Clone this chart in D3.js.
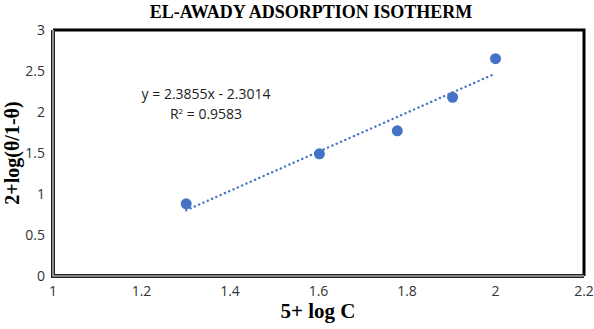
<!DOCTYPE html>
<html>
<head>
<meta charset="utf-8">
<script src="https://cdn.jsdelivr.net/npm/d3@7"></script>
<style>
  body { margin: 0; background: #fff; }
  svg { display: block; }
</style>
</head>
<body>
<div id="chart"></div>
<script>
// data
const xValues = [1.301, 1.602, 1.778, 1.903, 2.0];
const yValues = [0.88, 1.49, 1.77, 2.18, 2.65];
const slope = 2.3855;
const intercept = -2.3014;
const xTicks = [1, 1.2, 1.4, 1.6, 1.8, 2, 2.2];
const yTicks = [0, 0.5, 1, 1.5, 2, 2.5, 3];

const width = 594, height = 329;
const plotLeft = 53, plotRight = 584, plotTop = 30, plotBottom = 276;

const svg = d3.select("#chart").append("svg")
    .attr("width", width)
    .attr("height", height);

const x = d3.scaleLinear().domain([1, 2.2]).range([plotLeft, plotRight]);
const y = d3.scaleLinear().domain([0, 3]).range([plotBottom, plotTop]);

const serif = "Liberation Serif, Times New Roman, serif";
const tickFont = "Open Sans, Liberation Sans, sans-serif";

// title
svg.append("text")
    .attr("x", 311).attr("y", 18)
    .attr("text-anchor", "middle")
    .attr("font-family", serif)
    .attr("font-weight", "bold")
    .attr("font-size", 18)
    .text("EL-AWADY ADSORPTION ISOTHERM");

// frame: thick black on top/right
svg.append("path")
    .attr("d", `M${plotLeft},${plotTop} H${plotRight} V${plotBottom}`)
    .attr("fill", "none")
    .attr("stroke", "#000")
    .attr("stroke-width", 3);

// left/bottom axis: double line look
svg.append("path")
    .attr("d", `M${plotLeft},${plotTop} V${plotBottom} H${plotRight}`)
    .attr("fill", "none")
    .attr("stroke", "#222")
    .attr("stroke-width", 4);
svg.append("path")
    .attr("d", `M${plotLeft},${plotTop} V${plotBottom} H${plotRight}`)
    .attr("fill", "none")
    .attr("stroke", "#a6a6a6")
    .attr("stroke-width", 1.6);

// tick labels
svg.append("g").selectAll("text")
    .data(yTicks)
    .join("text")
    .attr("x", plotLeft - 8)
    .attr("y", d => y(d) + 5)
    .attr("text-anchor", "end")
    .attr("font-family", tickFont)
    .attr("font-size", 14)
    .attr("fill", "#333")
    .text(d => d);

svg.append("g").selectAll("text")
    .data(xTicks)
    .join("text")
    .attr("x", d => x(d))
    .attr("y", plotBottom + 20)
    .attr("text-anchor", "middle")
    .attr("font-family", tickFont)
    .attr("font-size", 14)
    .attr("fill", "#333")
    .text(d => d);

// axis titles
svg.append("text")
    .attr("x", 318).attr("y", 318)
    .attr("text-anchor", "middle")
    .attr("font-family", serif)
    .attr("font-weight", "bold")
    .attr("font-size", 21)
    .text("5+ log C");

svg.append("text")
    .attr("transform", "translate(19,153) rotate(-90)")
    .attr("text-anchor", "middle")
    .attr("font-family", serif)
    .attr("font-weight", "bold")
    .attr("font-size", 20)
    .text("2+log(θ/1-θ)");

// linear trendline (dotted)
const xMin = d3.min(xValues), xMax = d3.max(xValues);
svg.append("line")
    .attr("x1", x(xMin)).attr("y1", y(slope * xMin + intercept))
    .attr("x2", x(xMax)).attr("y2", y(slope * xMax + intercept))
    .attr("stroke", "#4472c4")
    .attr("stroke-width", 2.4)
    .attr("stroke-linecap", "round")
    .attr("stroke-dasharray", "0.1 4.6");

// points
svg.append("g").selectAll("circle")
    .data(xValues)
    .join("circle")
    .attr("cx", d => x(d))
    .attr("cy", (d, i) => y(yValues[i]))
    .attr("r", 5.5)
    .attr("fill", "#4472c4");

// equation label (two separate lines)
svg.append("text")
    .attr("x", 206).attr("y", 99)
    .attr("font-family", tickFont)
    .attr("font-size", 14)
    .attr("fill", "#222")
    .attr("text-anchor", "middle")
    .text("y = 2.3855x - 2.3014");
const r2 = svg.append("text")
    .attr("x", 206).attr("y", 119)
    .attr("font-family", tickFont)
    .attr("font-size", 14)
    .attr("fill", "#222")
    .attr("text-anchor", "middle");
r2.append("tspan").text("R");
r2.append("tspan").attr("dy", -5).attr("font-size", 8).text("2");
r2.append("tspan").attr("dy", 5).text(" = 0.9583");
</script>
</body>
</html>
